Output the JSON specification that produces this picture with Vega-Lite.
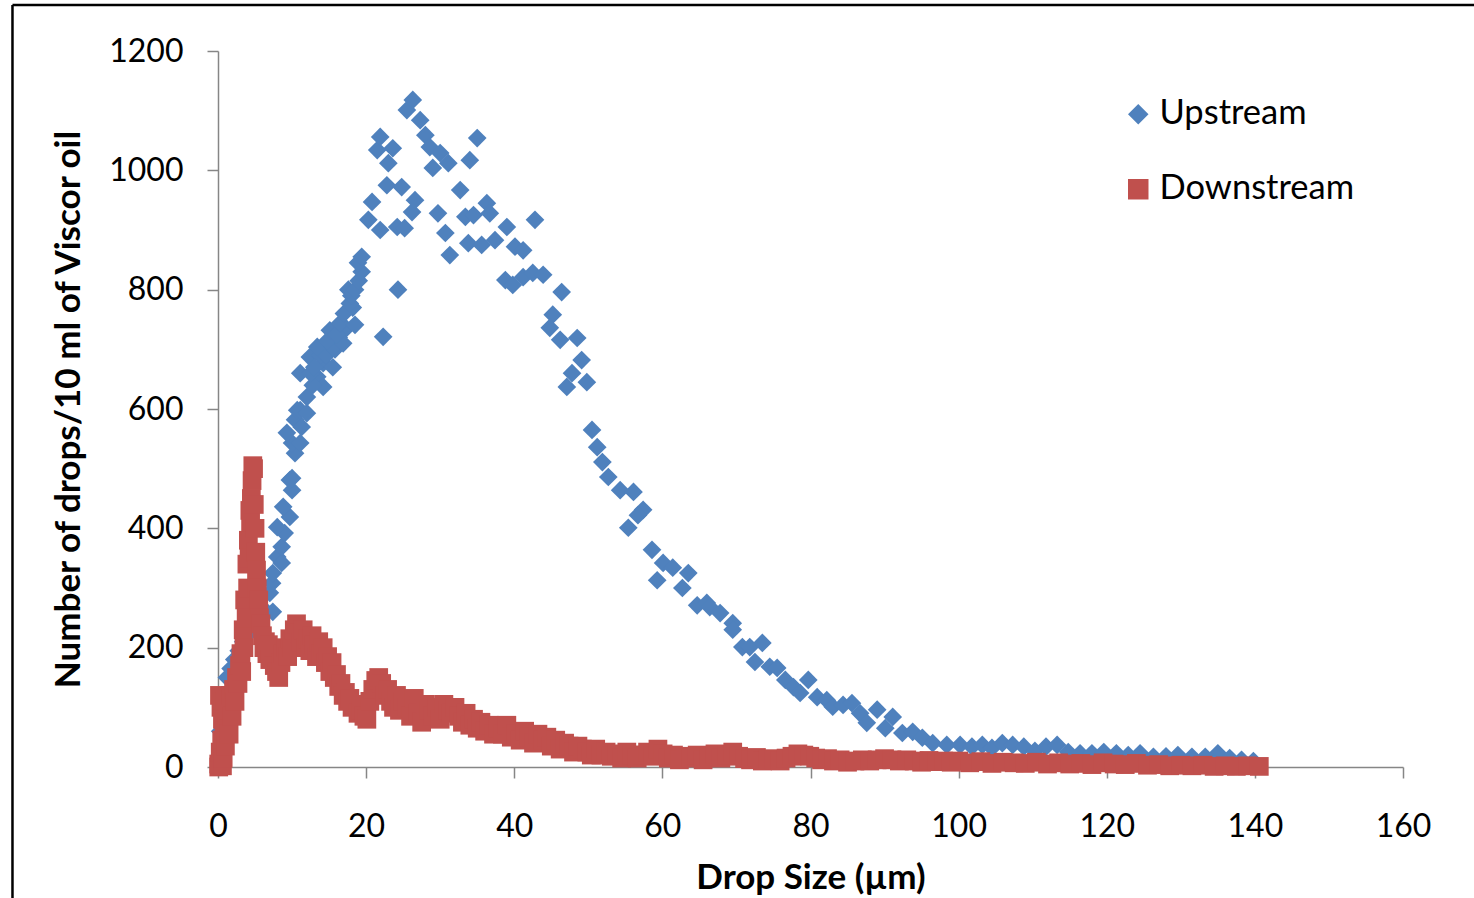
{
  "$schema": "https://vega.github.io/schema/vega-lite/v6.json",
  "autosize": {"type": "none"},
  "width": 1185,
  "height": 716,
  "padding": {"left": 218, "top": 51, "right": 71, "bottom": 131},
  "background": "white",
  "config": {
    "view": {"stroke": null},
    "font": "Lato",
    "axis": {
      "labelFont": "Lato", "titleFont": "Lato",
      "labelFontSize": 32, "labelColor": "#000000", "labelFlush": false, "format": "d",
      "titleFontSize": 35, "titleFontWeight": "bold", "titleColor": "#000000",
      "tickColor": "#868686", "domainColor": "#868686", "tickWidth": 1.5, "domainWidth": 1.5,
      "tickSize": 11, "grid": false
    },
    "legend": {"labelFont": "Lato", "labelFontSize": 34.5, "labelColor": "#000000", "labelLimit": 0}
  },
  "datasets": {
    "drops": [
      {"s":"Upstream","d":0.3,"n":60},{"s":"Upstream","d":0.7,"n":105},{"s":"Upstream","d":1.2,"n":150},{"s":"Upstream","d":1.7,"n":165},
      {"s":"Upstream","d":2.2,"n":180},{"s":"Upstream","d":2.8,"n":195},{"s":"Upstream","d":3.4,"n":210},{"s":"Upstream","d":4.0,"n":222},
      {"s":"Upstream","d":4.6,"n":235},{"s":"Upstream","d":5.2,"n":245},{"s":"Upstream","d":5.8,"n":255},{"s":"Upstream","d":6.4,"n":262},
      {"s":"Upstream","d":7.0,"n":292},{"s":"Upstream","d":7.4,"n":260},{"s":"Upstream","d":7.3,"n":308},{"s":"Upstream","d":7.4,"n":325},
      {"s":"Upstream","d":8.0,"n":352},{"s":"Upstream","d":8.6,"n":342},{"s":"Upstream","d":8.6,"n":369},{"s":"Upstream","d":9.0,"n":392},
      {"s":"Upstream","d":8.0,"n":402},{"s":"Upstream","d":9.7,"n":419},{"s":"Upstream","d":8.8,"n":436},{"s":"Upstream","d":10.0,"n":464},
      {"s":"Upstream","d":9.7,"n":481},{"s":"Upstream","d":10.0,"n":484},{"s":"Upstream","d":10.4,"n":526},{"s":"Upstream","d":10.0,"n":543},
      {"s":"Upstream","d":9.3,"n":560},{"s":"Upstream","d":10.4,"n":582},{"s":"Upstream","d":11.3,"n":570},{"s":"Upstream","d":10.7,"n":598},
      {"s":"Upstream","d":11.1,"n":543},{"s":"Upstream","d":11.1,"n":598},{"s":"Upstream","d":12.0,"n":593},{"s":"Upstream","d":12.0,"n":620},
      {"s":"Upstream","d":11.1,"n":660},{"s":"Upstream","d":13.4,"n":654},{"s":"Upstream","d":14.2,"n":637},{"s":"Upstream","d":12.8,"n":640},
      {"s":"Upstream","d":12.4,"n":687},{"s":"Upstream","d":14.2,"n":677},{"s":"Upstream","d":15.5,"n":670},{"s":"Upstream","d":13.8,"n":690},
      {"s":"Upstream","d":12.5,"n":660},{"s":"Upstream","d":13.0,"n":670},{"s":"Upstream","d":14.6,"n":690},{"s":"Upstream","d":15.8,"n":700},
      {"s":"Upstream","d":16.3,"n":720},{"s":"Upstream","d":17.3,"n":735},{"s":"Upstream","d":18.2,"n":770},
      {"s":"Upstream","d":13.4,"n":704},{"s":"Upstream","d":15.5,"n":704},{"s":"Upstream","d":16.9,"n":710},{"s":"Upstream","d":14.8,"n":715},
      {"s":"Upstream","d":15.1,"n":732},{"s":"Upstream","d":16.0,"n":725},{"s":"Upstream","d":16.5,"n":744},{"s":"Upstream","d":18.5,"n":741},
      {"s":"Upstream","d":17.0,"n":760},{"s":"Upstream","d":17.8,"n":777},{"s":"Upstream","d":18.0,"n":790},{"s":"Upstream","d":17.6,"n":800},
      {"s":"Upstream","d":18.5,"n":800},{"s":"Upstream","d":19.0,"n":815},{"s":"Upstream","d":19.4,"n":830},{"s":"Upstream","d":18.9,"n":845},
      {"s":"Upstream","d":19.4,"n":855},{"s":"Upstream","d":20.3,"n":917},{"s":"Upstream","d":20.8,"n":947},{"s":"Upstream","d":21.9,"n":900},
      {"s":"Upstream","d":22.3,"n":721},{"s":"Upstream","d":24.3,"n":800},{"s":"Upstream","d":22.8,"n":975},{"s":"Upstream","d":24.8,"n":972},
      {"s":"Upstream","d":24.2,"n":905},{"s":"Upstream","d":25.2,"n":903},{"s":"Upstream","d":26.2,"n":930},{"s":"Upstream","d":26.6,"n":950},
      {"s":"Upstream","d":23.0,"n":1012},{"s":"Upstream","d":21.5,"n":1034},{"s":"Upstream","d":21.9,"n":1056},{"s":"Upstream","d":23.6,"n":1037},
      {"s":"Upstream","d":25.5,"n":1101},{"s":"Upstream","d":26.3,"n":1118},{"s":"Upstream","d":27.3,"n":1084},{"s":"Upstream","d":28.0,"n":1059},
      {"s":"Upstream","d":28.6,"n":1039},{"s":"Upstream","d":30.0,"n":1029},{"s":"Upstream","d":29.0,"n":1004},{"s":"Upstream","d":31.1,"n":1012},
      {"s":"Upstream","d":29.7,"n":928},{"s":"Upstream","d":30.7,"n":895},{"s":"Upstream","d":31.3,"n":858},{"s":"Upstream","d":32.7,"n":967},
      {"s":"Upstream","d":34.0,"n":1017},{"s":"Upstream","d":35.0,"n":1054},{"s":"Upstream","d":33.4,"n":922},{"s":"Upstream","d":34.5,"n":925},
      {"s":"Upstream","d":36.3,"n":945},{"s":"Upstream","d":36.7,"n":928},{"s":"Upstream","d":33.8,"n":878},{"s":"Upstream","d":35.6,"n":875},
      {"s":"Upstream","d":37.4,"n":883},{"s":"Upstream","d":39.0,"n":905},{"s":"Upstream","d":40.1,"n":872},{"s":"Upstream","d":41.2,"n":866},
      {"s":"Upstream","d":42.8,"n":917},{"s":"Upstream","d":38.8,"n":816},{"s":"Upstream","d":39.8,"n":808},{"s":"Upstream","d":41.2,"n":821},
      {"s":"Upstream","d":42.5,"n":828},{"s":"Upstream","d":43.9,"n":825},{"s":"Upstream","d":46.4,"n":796},{"s":"Upstream","d":45.2,"n":758},
      {"s":"Upstream","d":44.8,"n":736},{"s":"Upstream","d":46.2,"n":716},{"s":"Upstream","d":48.5,"n":719},{"s":"Upstream","d":49.1,"n":682},
      {"s":"Upstream","d":47.8,"n":660},{"s":"Upstream","d":49.8,"n":645},{"s":"Upstream","d":47.1,"n":637},{"s":"Upstream","d":50.5,"n":565},
      {"s":"Upstream","d":51.2,"n":536},{"s":"Upstream","d":51.9,"n":511},{"s":"Upstream","d":52.7,"n":486},{"s":"Upstream","d":54.3,"n":464},
      {"s":"Upstream","d":56.1,"n":461},{"s":"Upstream","d":57.4,"n":431},{"s":"Upstream","d":56.7,"n":422},{"s":"Upstream","d":55.4,"n":401},
      {"s":"Upstream","d":58.6,"n":364},{"s":"Upstream","d":60.1,"n":342},{"s":"Upstream","d":61.4,"n":334},{"s":"Upstream","d":63.5,"n":325},
      {"s":"Upstream","d":59.3,"n":313},{"s":"Upstream","d":62.7,"n":300},{"s":"Upstream","d":64.7,"n":271},{"s":"Upstream","d":66.0,"n":275},
      {"s":"Upstream","d":66.4,"n":268},{"s":"Upstream","d":67.8,"n":258},{"s":"Upstream","d":69.5,"n":241},{"s":"Upstream","d":69.5,"n":230},
      {"s":"Upstream","d":70.8,"n":201},{"s":"Upstream","d":71.8,"n":201},{"s":"Upstream","d":73.5,"n":208},{"s":"Upstream","d":72.5,"n":176},
      {"s":"Upstream","d":74.5,"n":168},{"s":"Upstream","d":75.5,"n":166},{"s":"Upstream","d":76.6,"n":146},{"s":"Upstream","d":77.7,"n":134},
      {"s":"Upstream","d":78.6,"n":124},{"s":"Upstream","d":79.7,"n":146},{"s":"Upstream","d":80.9,"n":117},{"s":"Upstream","d":82.2,"n":112},
      {"s":"Upstream","d":83.0,"n":101},{"s":"Upstream","d":84.4,"n":104},{"s":"Upstream","d":85.6,"n":107},{"s":"Upstream","d":86.7,"n":90},
      {"s":"Upstream","d":87.6,"n":74},{"s":"Upstream","d":89.0,"n":96},{"s":"Upstream","d":90.1,"n":65},{"s":"Upstream","d":91.1,"n":84},
      {"s":"Upstream","d":92.4,"n":57},{"s":"Upstream","d":93.8,"n":59},{"s":"Upstream","d":95.1,"n":49},{"s":"Upstream","d":96.5,"n":40},
      {"s":"Upstream","d":98.4,"n":37},{"s":"Upstream","d":100.2,"n":37},{"s":"Upstream","d":101.8,"n":34},{"s":"Upstream","d":103.2,"n":37},
      {"s":"Upstream","d":104.5,"n":32},{"s":"Upstream","d":105.9,"n":40},{"s":"Upstream","d":107.3,"n":37},{"s":"Upstream","d":108.8,"n":34},
      {"s":"Upstream","d":110.3,"n":27},{"s":"Upstream","d":111.8,"n":34},{"s":"Upstream","d":113.3,"n":37},{"s":"Upstream","d":114.8,"n":25},
      {"s":"Upstream","d":116.4,"n":23},{"s":"Upstream","d":118.0,"n":23},{"s":"Upstream","d":119.6,"n":25},{"s":"Upstream","d":121.3,"n":23},
      {"s":"Upstream","d":122.9,"n":20},{"s":"Upstream","d":124.5,"n":23},{"s":"Upstream","d":126.3,"n":17},{"s":"Upstream","d":128.0,"n":18},
      {"s":"Upstream","d":129.6,"n":20},{"s":"Upstream","d":131.5,"n":17},{"s":"Upstream","d":133.3,"n":17},{"s":"Upstream","d":135.0,"n":23},
      {"s":"Upstream","d":136.6,"n":15},{"s":"Upstream","d":138.2,"n":12},{"s":"Upstream","d":139.8,"n":10},

      {"s":"Downstream","d":0.1,"n":0},{"s":"Downstream","d":0.1,"n":5},{"s":"Downstream","d":0.2,"n":120},{"s":"Downstream","d":0.3,"n":25},
      {"s":"Downstream","d":0.4,"n":100},{"s":"Downstream","d":0.5,"n":45},{"s":"Downstream","d":0.6,"n":80},{"s":"Downstream","d":0.6,"n":2},
      {"s":"Downstream","d":0.7,"n":15},{"s":"Downstream","d":0.8,"n":60},{"s":"Downstream","d":0.9,"n":110},{"s":"Downstream","d":1.0,"n":35},
      {"s":"Downstream","d":1.2,"n":75},{"s":"Downstream","d":1.4,"n":95},{"s":"Downstream","d":1.5,"n":55},{"s":"Downstream","d":1.7,"n":120},
      {"s":"Downstream","d":1.9,"n":85},{"s":"Downstream","d":2.1,"n":130},{"s":"Downstream","d":2.3,"n":110},{"s":"Downstream","d":2.5,"n":150},
      {"s":"Downstream","d":2.7,"n":140},{"s":"Downstream","d":2.9,"n":170},{"s":"Downstream","d":3.1,"n":190},{"s":"Downstream","d":3.2,"n":160},
      {"s":"Downstream","d":3.4,"n":230},{"s":"Downstream","d":3.5,"n":200},{"s":"Downstream","d":3.6,"n":280},{"s":"Downstream","d":3.8,"n":250},
      {"s":"Downstream","d":3.9,"n":340},{"s":"Downstream","d":4.0,"n":300},{"s":"Downstream","d":4.1,"n":380},{"s":"Downstream","d":4.2,"n":350},
      {"s":"Downstream","d":4.3,"n":430},{"s":"Downstream","d":4.4,"n":410},{"s":"Downstream","d":4.5,"n":450},{"s":"Downstream","d":4.6,"n":480},
      {"s":"Downstream","d":4.7,"n":505},{"s":"Downstream","d":4.8,"n":500},{"s":"Downstream","d":4.9,"n":440},{"s":"Downstream","d":5.0,"n":400},
      {"s":"Downstream","d":5.1,"n":360},{"s":"Downstream","d":5.2,"n":330},{"s":"Downstream","d":5.3,"n":300},{"s":"Downstream","d":5.5,"n":280},
      {"s":"Downstream","d":5.6,"n":250},{"s":"Downstream","d":5.8,"n":240},{"s":"Downstream","d":6.0,"n":220},{"s":"Downstream","d":6.2,"n":200},
      {"s":"Downstream","d":6.4,"n":210},{"s":"Downstream","d":6.6,"n":190},{"s":"Downstream","d":6.8,"n":205},{"s":"Downstream","d":7.0,"n":180},
      {"s":"Downstream","d":7.3,"n":195},{"s":"Downstream","d":7.6,"n":170},{"s":"Downstream","d":7.9,"n":160},{"s":"Downstream","d":8.2,"n":150},
      {"s":"Downstream","d":8.5,"n":175},{"s":"Downstream","d":8.8,"n":190},{"s":"Downstream","d":9.1,"n":200},{"s":"Downstream","d":9.4,"n":185},
      {"s":"Downstream","d":9.7,"n":215},{"s":"Downstream","d":10.0,"n":200},{"s":"Downstream","d":10.3,"n":230},{"s":"Downstream","d":10.6,"n":240},
      {"s":"Downstream","d":10.9,"n":225},{"s":"Downstream","d":11.2,"n":210},{"s":"Downstream","d":11.5,"n":230},{"s":"Downstream","d":11.8,"n":200},
      {"s":"Downstream","d":12.1,"n":215},{"s":"Downstream","d":12.4,"n":195},{"s":"Downstream","d":12.7,"n":220},{"s":"Downstream","d":13.0,"n":205},
      {"s":"Downstream","d":13.3,"n":185},{"s":"Downstream","d":13.6,"n":210},{"s":"Downstream","d":13.9,"n":190},{"s":"Downstream","d":14.2,"n":200},
      {"s":"Downstream","d":14.5,"n":175},{"s":"Downstream","d":14.8,"n":185},{"s":"Downstream","d":15.1,"n":160},{"s":"Downstream","d":15.4,"n":175},
      {"s":"Downstream","d":15.7,"n":150},{"s":"Downstream","d":16.0,"n":155},{"s":"Downstream","d":16.3,"n":135},{"s":"Downstream","d":16.6,"n":140},
      {"s":"Downstream","d":16.9,"n":120},{"s":"Downstream","d":17.2,"n":125},{"s":"Downstream","d":17.5,"n":110},{"s":"Downstream","d":17.8,"n":115},
      {"s":"Downstream","d":18.1,"n":100},{"s":"Downstream","d":18.5,"n":105},{"s":"Downstream","d":18.9,"n":90},{"s":"Downstream","d":19.3,"n":95},
      {"s":"Downstream","d":19.7,"n":85},{"s":"Downstream","d":20.1,"n":80},{"s":"Downstream","d":20.5,"n":110},{"s":"Downstream","d":20.9,"n":130},
      {"s":"Downstream","d":21.3,"n":145},{"s":"Downstream","d":21.7,"n":150},{"s":"Downstream","d":22.1,"n":140},{"s":"Downstream","d":22.5,"n":120},
      {"s":"Downstream","d":22.9,"n":130},{"s":"Downstream","d":23.3,"n":110},{"s":"Downstream","d":23.7,"n":100},{"s":"Downstream","d":24.1,"n":120},
      {"s":"Downstream","d":24.5,"n":95},{"s":"Downstream","d":25.0,"n":110},{"s":"Downstream","d":25.5,"n":100},{"s":"Downstream","d":26.0,"n":85},
      {"s":"Downstream","d":26.5,"n":115},{"s":"Downstream","d":27.0,"n":90},{"s":"Downstream","d":27.5,"n":75},{"s":"Downstream","d":28.0,"n":105},
      {"s":"Downstream","d":28.5,"n":95},{"s":"Downstream","d":29.0,"n":85},{"s":"Downstream","d":29.5,"n":100},{"s":"Downstream","d":30.0,"n":80},
      {"s":"Downstream","d":30.5,"n":105},{"s":"Downstream","d":31.0,"n":95},{"s":"Downstream","d":31.5,"n":90},{"s":"Downstream","d":32.0,"n":100},
      {"s":"Downstream","d":32.5,"n":85},{"s":"Downstream","d":33.0,"n":75},{"s":"Downstream","d":33.5,"n":90},{"s":"Downstream","d":34.0,"n":70},
      {"s":"Downstream","d":34.5,"n":80},{"s":"Downstream","d":35.0,"n":65},{"s":"Downstream","d":35.5,"n":75},{"s":"Downstream","d":36.0,"n":60},
      {"s":"Downstream","d":36.6,"n":70},{"s":"Downstream","d":37.2,"n":55},{"s":"Downstream","d":37.8,"n":65},{"s":"Downstream","d":38.4,"n":55},
      {"s":"Downstream","d":39.0,"n":70},{"s":"Downstream","d":39.6,"n":50},{"s":"Downstream","d":40.2,"n":55},{"s":"Downstream","d":40.8,"n":45},
      {"s":"Downstream","d":41.4,"n":60},{"s":"Downstream","d":42.0,"n":50},{"s":"Downstream","d":42.6,"n":40},{"s":"Downstream","d":43.2,"n":55},
      {"s":"Downstream","d":43.8,"n":45},{"s":"Downstream","d":44.4,"n":50},{"s":"Downstream","d":45.0,"n":35},{"s":"Downstream","d":45.6,"n":45},
      {"s":"Downstream","d":46.2,"n":30},{"s":"Downstream","d":46.8,"n":40},{"s":"Downstream","d":47.4,"n":35},{"s":"Downstream","d":48.0,"n":25},
      {"s":"Downstream","d":48.6,"n":35},{"s":"Downstream","d":49.2,"n":30},{"s":"Downstream","d":49.8,"n":25},{"s":"Downstream","d":50.4,"n":20},
      {"s":"Downstream","d":51.0,"n":30},{"s":"Downstream","d":51.7,"n":20},{"s":"Downstream","d":52.4,"n":25},{"s":"Downstream","d":53.1,"n":18},
      {"s":"Downstream","d":53.8,"n":22},{"s":"Downstream","d":54.5,"n":15},{"s":"Downstream","d":55.2,"n":25},{"s":"Downstream","d":55.9,"n":20},
      {"s":"Downstream","d":56.6,"n":15},{"s":"Downstream","d":57.3,"n":20},{"s":"Downstream","d":58.0,"n":25},{"s":"Downstream","d":58.7,"n":18},
      {"s":"Downstream","d":59.4,"n":30},{"s":"Downstream","d":60.1,"n":22},{"s":"Downstream","d":60.8,"n":15},{"s":"Downstream","d":61.5,"n":20},
      {"s":"Downstream","d":62.3,"n":12},{"s":"Downstream","d":63.1,"n":18},{"s":"Downstream","d":63.9,"n":15},{"s":"Downstream","d":64.7,"n":20},
      {"s":"Downstream","d":65.5,"n":12},{"s":"Downstream","d":66.3,"n":18},{"s":"Downstream","d":67.1,"n":22},{"s":"Downstream","d":67.9,"n":15},
      {"s":"Downstream","d":68.7,"n":20},{"s":"Downstream","d":69.5,"n":25},{"s":"Downstream","d":70.3,"n":18},{"s":"Downstream","d":71.1,"n":14},
      {"s":"Downstream","d":71.9,"n":12},{"s":"Downstream","d":72.7,"n":16},{"s":"Downstream","d":73.5,"n":10},{"s":"Downstream","d":74.3,"n":14},
      {"s":"Downstream","d":75.1,"n":12},{"s":"Downstream","d":75.9,"n":10},{"s":"Downstream","d":76.7,"n":15},{"s":"Downstream","d":77.5,"n":18},
      {"s":"Downstream","d":78.3,"n":22},{"s":"Downstream","d":79.1,"n":20},{"s":"Downstream","d":79.9,"n":18},{"s":"Downstream","d":80.7,"n":15},
      {"s":"Downstream","d":81.5,"n":12},{"s":"Downstream","d":82.3,"n":14},{"s":"Downstream","d":83.1,"n":10},{"s":"Downstream","d":84.0,"n":12},
      {"s":"Downstream","d":85.0,"n":8},{"s":"Downstream","d":86.0,"n":10},{"s":"Downstream","d":87.0,"n":12},{"s":"Downstream","d":88.0,"n":10},
      {"s":"Downstream","d":89.0,"n":12},{"s":"Downstream","d":90.0,"n":14},{"s":"Downstream","d":91.0,"n":12},{"s":"Downstream","d":92.0,"n":10},
      {"s":"Downstream","d":93.0,"n":12},{"s":"Downstream","d":94.0,"n":10},{"s":"Downstream","d":95.0,"n":8},{"s":"Downstream","d":96.0,"n":11},
      {"s":"Downstream","d":97.0,"n":9},{"s":"Downstream","d":98.0,"n":10},{"s":"Downstream","d":99.0,"n":8},{"s":"Downstream","d":100.0,"n":10},
      {"s":"Downstream","d":101.5,"n":7},{"s":"Downstream","d":103.0,"n":9},{"s":"Downstream","d":104.5,"n":6},{"s":"Downstream","d":106.0,"n":8},
      {"s":"Downstream","d":107.5,"n":7},{"s":"Downstream","d":109.0,"n":6},{"s":"Downstream","d":110.5,"n":8},{"s":"Downstream","d":112.0,"n":5},
      {"s":"Downstream","d":113.5,"n":7},{"s":"Downstream","d":115.0,"n":5},{"s":"Downstream","d":116.5,"n":6},{"s":"Downstream","d":118.0,"n":4},
      {"s":"Downstream","d":119.5,"n":7},{"s":"Downstream","d":121.0,"n":5},{"s":"Downstream","d":122.5,"n":4},{"s":"Downstream","d":124.0,"n":6},
      {"s":"Downstream","d":125.5,"n":3},{"s":"Downstream","d":127.0,"n":4},{"s":"Downstream","d":128.5,"n":2},{"s":"Downstream","d":130.0,"n":3},
      {"s":"Downstream","d":131.5,"n":2},{"s":"Downstream","d":133.0,"n":3},{"s":"Downstream","d":134.5,"n":1},{"s":"Downstream","d":136.0,"n":2},
      {"s":"Downstream","d":137.5,"n":1},{"s":"Downstream","d":139.0,"n":2},{"s":"Downstream","d":140.6,"n":1}
    ]
  },
  "layer": [
    {
      "data": {"name": "drops"},
      "mark": {"type": "point", "filled": true, "opacity": 1, "strokeWidth": 0, "size": 350},
      "encoding": {
        "x": {"field": "d", "type": "quantitative", "scale": {"domain": [0, 160], "nice": false, "zero": false},
              "axis": {"title": "Drop Size (µm)", "values": [0,20,40,60,80,100,120,140,160], "labelPadding": 33, "titlePadding": 18}},
        "y": {"field": "n", "type": "quantitative", "scale": {"domain": [0, 1200], "nice": false},
              "axis": {"title": "Number of drops/10 ml of Viscor oil", "values": [0,200,400,600,800,1000,1200], "labelPadding": 24, "titlePadding": 22}},
        "color": {"field": "s", "type": "nominal", "scale": {"domain": ["Upstream","Downstream"], "range": ["#4F81BD","#C0504D"]},
                  "legend": {"title": null, "orient": "none", "legendX": 903, "legendY": 46, "symbolSize": 420, "rowPadding": 40, "labelOffset": 4, "padding": 0, "symbolStrokeWidth": 0, "symbolOpacity": 1}},
        "shape": {"field": "s", "type": "nominal", "scale": {"domain": ["Upstream","Downstream"], "range": ["diamond","square"]}, "legend": null}
      }
    },
    {
      "data": {"values": [{}]},
      "mark": {"type": "rule", "color": "#000000", "strokeWidth": 2.5, "clip": false},
      "encoding": {"x": {"datum": -27.75, "type": "quantitative"}, "y": {"datum": -225, "type": "quantitative"}, "y2": {"datum": 1277}}
    },
    {
      "data": {"values": [{}]},
      "mark": {"type": "rule", "color": "#000000", "strokeWidth": 2.5, "clip": false},
      "encoding": {"y": {"datum": 1277, "type": "quantitative"}, "x": {"datum": -27.75, "type": "quantitative"}, "x2": {"datum": 172}}
    }
  ]
}
